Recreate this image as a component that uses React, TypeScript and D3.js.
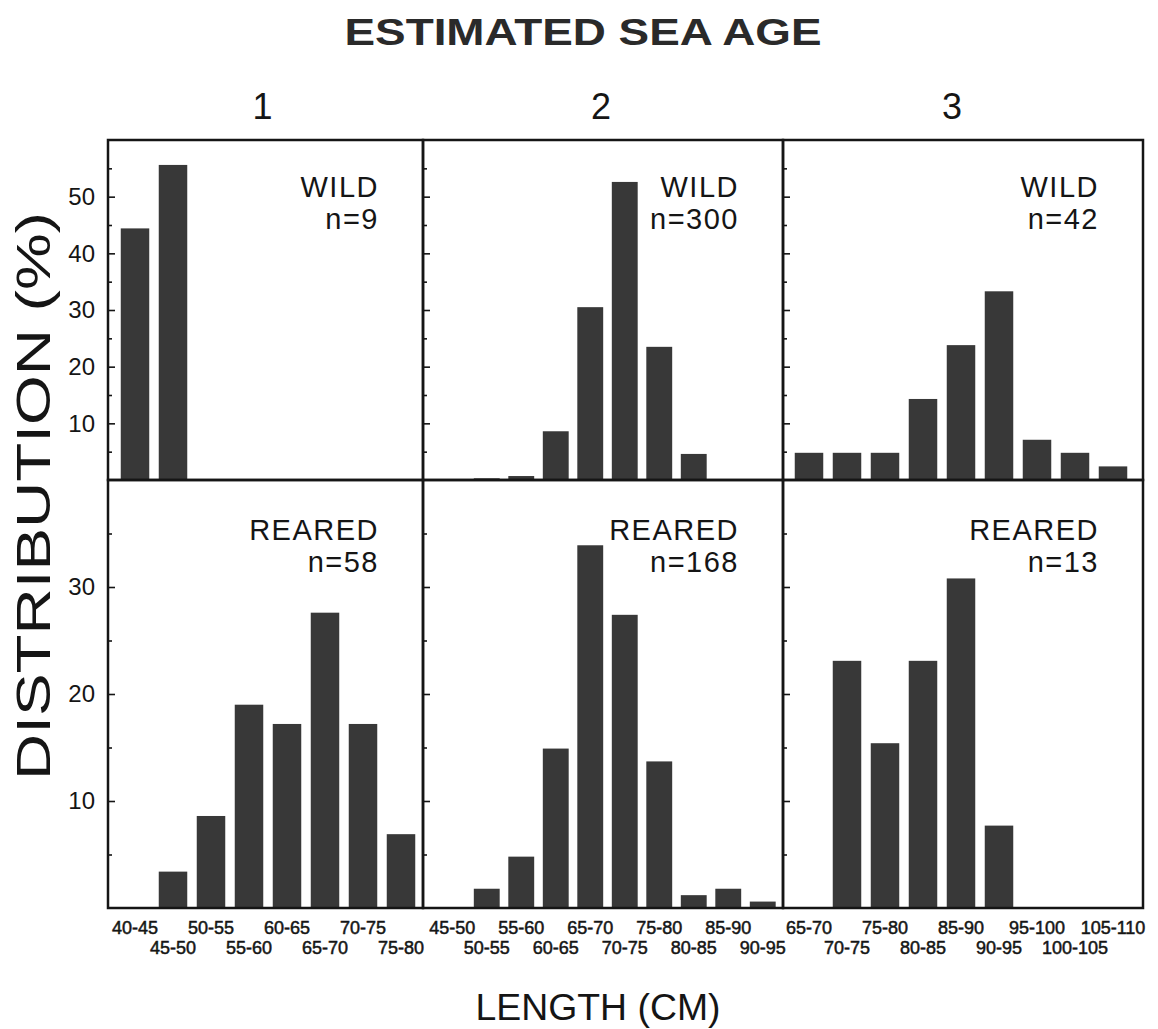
import React, { useEffect, useRef } from 'react';
import * as d3 from 'd3';

// length classes (cm) for each estimated sea age
const sizeClasses1 = ['40-45', '45-50', '50-55', '55-60', '60-65', '65-70', '70-75', '75-80'];
const sizeClasses2 = ['45-50', '50-55', '55-60', '60-65', '65-70', '70-75', '75-80', '80-85', '85-90', '90-95'];
const sizeClasses3 = ['65-70', '70-75', '75-80', '80-85', '85-90', '90-95', '95-100', '100-105', '105-110'];

// distribution (%)
const wildAge1 = [44.4, 55.6, 0, 0, 0, 0, 0, 0];
const rearedAge1 = [0, 3.4, 8.6, 19.0, 17.2, 27.6, 17.2, 6.9];
const wildAge2 = [0, 0.3, 0.7, 8.6, 30.5, 52.6, 23.5, 4.6, 0, 0];
const rearedAge2 = [0, 1.8, 4.8, 14.9, 33.9, 27.4, 13.7, 1.2, 1.8, 0.6];
const wildAge3 = [4.8, 4.8, 4.8, 14.3, 23.8, 33.3, 7.1, 4.8, 2.4];
const rearedAge3 = [0, 23.1, 15.4, 23.1, 30.8, 7.7, 0, 0, 0];

const ageHeaders = ['1', '2', '3'];
const wildCounts = ['n=9', 'n=300', 'n=42'];
const rearedCounts = ['n=58', 'n=168', 'n=13'];
const topTicks = [10, 20, 30, 40, 50];
const bottomTicks = [10, 20, 30];

const App = () => {
  const ref = useRef<SVGSVGElement>(null);

  useEffect(() => {
    const svg = d3.select(ref.current);
    svg.selectAll('*').remove();

    const font = '"Liberation Sans", Arial, Helvetica, sans-serif';
    const ink = '#151515';
    const barFill = '#383838';

    const colX = [108, 423, 783, 1143];
    const rowY = [140, 480, 908];
    const bandRange: [number, number][] = [[116, 420], [435, 780], [790, 1132]];
    const headerShift = [-3, -2, -11];

    const yTop = d3.scaleLinear().domain([0, 60]).range([rowY[1], rowY[0]]);
    const yBottom = d3.scaleLinear().domain([0, 40]).range([rowY[2], rowY[1]]);

    const columns = [
      { cats: sizeClasses1, wild: wildAge1, reared: rearedAge1 },
      { cats: sizeClasses2, wild: wildAge2, reared: rearedAge2 },
      { cats: sizeClasses3, wild: wildAge3, reared: rearedAge3 },
    ];

    columns.forEach((col, c) => {
      const x = d3
        .scaleBand<string>()
        .domain(col.cats)
        .range(bandRange[c])
        .paddingInner(0.25)
        .paddingOuter(0.125);

      const rows = [
        { y: yTop, values: col.wild, max: 60, r: 0, label: 'WILD', n: wildCounts[c], ticks: topTicks },
        { y: yBottom, values: col.reared, max: 40, r: 1, label: 'REARED', n: rearedCounts[c], ticks: bottomTicks },
      ];

      rows.forEach((row) => {
        const g = svg.append('g');

        g.selectAll('.bar')
          .data(col.cats.map((k, i) => ({ k, v: row.values[i] })).filter((d) => d.v > 0))
          .enter()
          .append('rect')
          .attr('class', 'bar')
          .attr('x', (d) => x(d.k) as number)
          .attr('width', x.bandwidth())
          .attr('y', (d) => row.y(d.v))
          .attr('height', (d) => row.y(0) - row.y(d.v))
          .style('fill', barFill);

        // inward tick marks every 5 %
        const tickAxis = g
          .append('g')
          .attr('transform', `translate(${colX[c]}, 0)`)
          .call(
            d3
              .axisRight(row.y)
              .tickValues(d3.range(5, row.max, 5))
              .tickSize(6)
              .tickFormat(() => '')
          );
        tickAxis.select('.domain').remove();
        tickAxis
          .selectAll('.tick line')
          .attr('x2', (d: any) => (d % 10 === 0 ? 7 : 4))
          .style('stroke', ink)
          .style('stroke-width', 1.6);

        if (c === 0) {
          const labelAxis = g
            .append('g')
            .attr('transform', `translate(${colX[0]}, 0)`)
            .call(d3.axisLeft(row.y).tickValues(row.ticks).tickSize(0).tickPadding(13));
          labelAxis.select('.domain').remove();
          labelAxis
            .selectAll('text')
            .style('font-family', font)
            .style('font-size', '24px')
            .style('fill', ink);
        }

        g.append('rect')
          .attr('x', colX[c])
          .attr('y', rowY[row.r])
          .attr('width', colX[c + 1] - colX[c])
          .attr('height', rowY[row.r + 1] - rowY[row.r])
          .style('fill', 'none')
          .style('stroke', ink)
          .style('stroke-width', 2.5);

        const labelY = row.r === 0 ? [197, 229] : [540, 572];
        [row.label, row.n].forEach((t, i) => {
          g.append('text')
            .attr('x', colX[c + 1] - 44)
            .attr('y', labelY[i])
            .attr('text-anchor', 'end')
            .style('font-family', font)
            .style('font-size', '29px')
            .style('letter-spacing', '1.5px')
            .style('fill', ink)
            .text(t);
        });
      });

      // two staggered rows of length-class labels
      const xAxis = svg
        .append('g')
        .attr('transform', `translate(0, ${rowY[2]})`)
        .call(d3.axisBottom(x).tickSize(0));
      xAxis.select('.domain').remove();
      xAxis
        .selectAll('text')
        .attr('y', (d, i) => (i % 2 ? 46 : 26))
        .attr('dy', 0)
        .style('font-family', font)
        .style('font-size', '18px')
        .style('fill', ink)
        .style('stroke', ink)
        .style('stroke-width', 0.5);

      svg
        .append('text')
        .attr('x', (colX[c] + colX[c + 1]) / 2 + headerShift[c])
        .attr('y', 119)
        .attr('text-anchor', 'middle')
        .style('font-family', font)
        .style('font-size', '36px')
        .style('fill', ink)
        .text(ageHeaders[c]);
    });

    svg
      .append('text')
      .attr('x', 583)
      .attr('y', 45)
      .attr('text-anchor', 'middle')
      .attr('textLength', 477)
      .attr('lengthAdjust', 'spacingAndGlyphs')
      .style('font-family', font)
      .style('font-size', '36px')
      .style('font-weight', 'bold')
      .style('fill', '#2a2a2a')
      .text('ESTIMATED SEA AGE');

    svg
      .append('text')
      .attr('transform', 'translate(50, 496) rotate(-90)')
      .attr('text-anchor', 'middle')
      .attr('textLength', 568)
      .attr('lengthAdjust', 'spacingAndGlyphs')
      .style('font-family', font)
      .style('font-size', '48px')
      .style('fill', ink)
      .text('DISTRIBUTION (%)');

    svg
      .append('text')
      .attr('x', 598)
      .attr('y', 1020)
      .attr('text-anchor', 'middle')
      .attr('textLength', 245)
      .attr('lengthAdjust', 'spacingAndGlyphs')
      .style('font-family', font)
      .style('font-size', '37px')
      .style('fill', ink)
      .text('LENGTH (CM)');
  }, []);

  return (
    <svg
      ref={ref}
      width={1158}
      height={1029}
      style={{ position: 'absolute', left: 0, top: 0, background: '#fff' }}
    />
  );
};

export default App;
